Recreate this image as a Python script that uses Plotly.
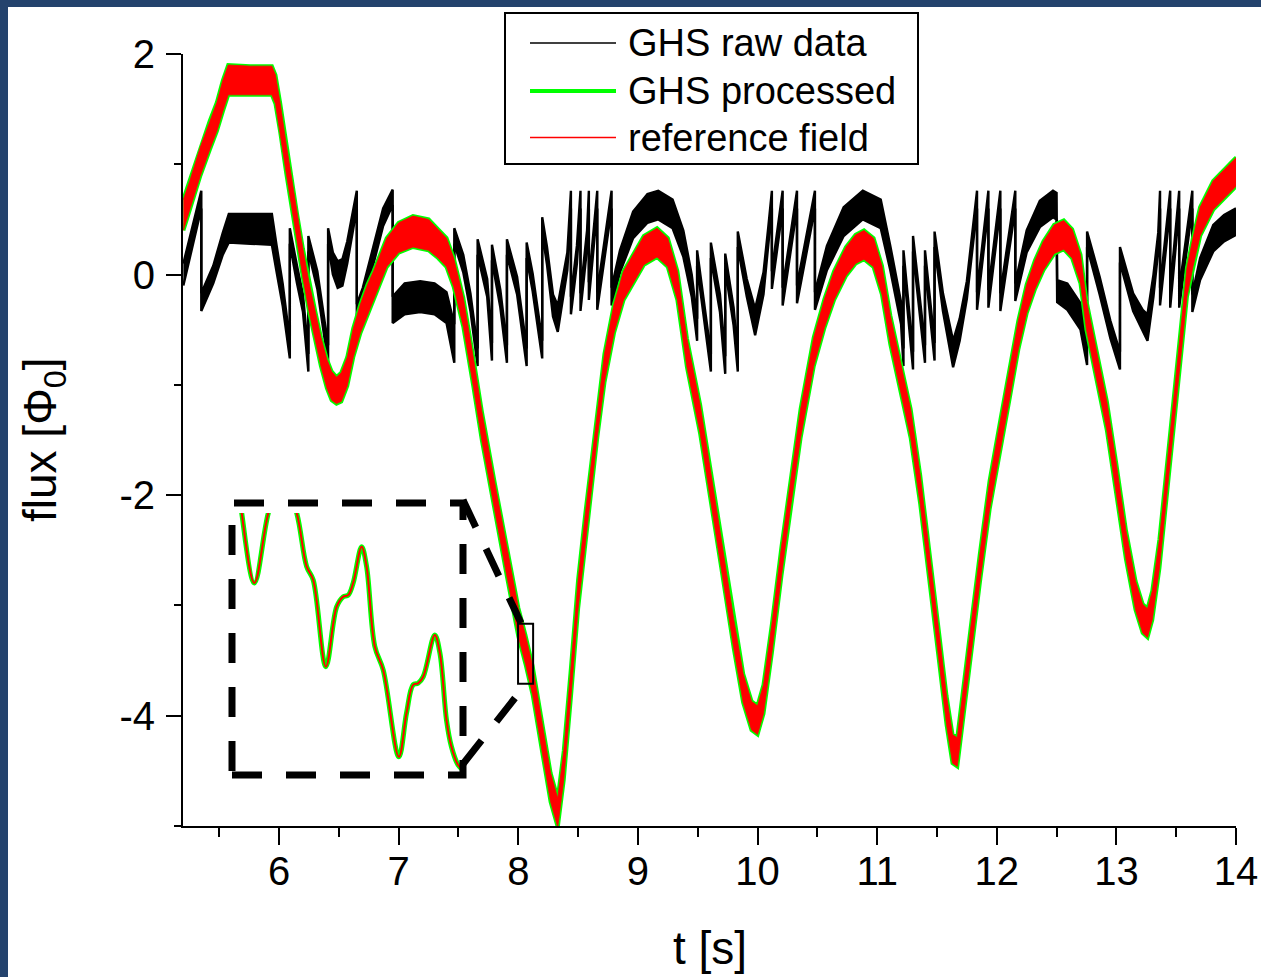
import plotly.graph_objects as go

# ---------------- data ----------------
# GHS raw data: time [s] with upper / lower edge of the (noisy) trace [Phi_0]
raw_t = [5.20, 5.35, 5.35, 5.45, 5.53, 5.58, 5.76, 5.94, 5.98, 6.03,
         6.09, 6.09, 6.15, 6.20, 6.245, 6.245, 6.32, 6.37, 6.41, 6.41,
         6.45, 6.49, 6.53, 6.57, 6.62, 6.65, 6.65, 6.70, 6.79, 6.87,
         6.95, 6.95, 7.05, 7.18, 7.30, 7.40, 7.465, 7.465, 7.54, 7.60,
         7.66, 7.66, 7.74, 7.78, 7.78, 7.85, 7.905, 7.905, 7.99, 8.07,
         8.07, 8.12, 8.20, 8.20, 8.24, 8.29, 8.33, 8.375, 8.41, 8.44,
         8.44, 8.49, 8.52, 8.52, 8.575, 8.59, 8.59, 8.66, 8.66, 8.78,
         8.78, 8.85, 8.96, 9.08, 9.17, 9.29, 9.38, 9.45, 9.495, 9.495,
         9.545, 9.61, 9.61, 9.686, 9.73, 9.73, 9.80, 9.835, 9.835, 9.91,
         9.98, 10.05, 10.09, 10.12, 10.12, 10.21, 10.21, 10.33, 10.33, 10.48,
         10.48, 10.58, 10.72, 10.88, 11.03, 11.11, 11.20, 11.22, 11.22, 11.30,
         11.30, 11.40, 11.40, 11.48, 11.48, 11.55, 11.635, 11.69, 11.75, 11.80,
         11.835, 11.835, 11.93, 11.93, 12.03, 12.03, 12.155, 12.155, 12.25, 12.36,
         12.47, 12.50, 12.505, 12.59, 12.70, 12.755, 12.755, 12.86, 12.95, 13.03,
         13.03, 13.14, 13.22, 13.26, 13.31, 13.35, 13.365, 13.365, 13.45, 13.45,
         13.525, 13.525, 13.635, 13.635, 13.70, 13.81, 13.90, 14.00]
raw_hi = [0.10, 0.76, -0.17, 0.08, 0.38, 0.55, 0.55, 0.55, 0.26, -0.08,
          -0.60, 0.42, 0.08, -0.18, -0.72, 0.35, 0.03, -0.32, -0.64, 0.42,
          0.20, 0.12, 0.14, 0.30, 0.58, 0.76, -0.27, -0.12, 0.26, 0.60,
          0.77, -0.20, -0.08, -0.06, -0.08, -0.16, -0.45, 0.42, 0.18, -0.17,
          -0.67, 0.32, -0.04, -0.62, 0.27, -0.14, -0.64, 0.32, -0.02, -0.67,
          0.29, 0.01, -0.60, 0.52, 0.25, -0.18, -0.28, -0.02, 0.20, 0.76,
          -0.20, 0.26, 0.76, -0.17, 0.40, 0.76, -0.07, 0.76, -0.16, 0.76,
          -0.12, 0.22, 0.57, 0.73, 0.76, 0.68, 0.40, 0.00, -0.40, 0.22,
          -0.18, -0.72, 0.29, -0.18, -0.74, 0.19, -0.30, -0.72, 0.39, -0.04,
          -0.31, 0.02, 0.43, 0.76, 0.03, 0.76, -0.12, 0.76, -0.10, 0.76,
          -0.16, 0.26, 0.61, 0.76, 0.68, 0.26, -0.25, -0.67, 0.22, -0.70,
          0.35, -0.64, 0.22, -0.62, 0.39, -0.17, -0.60, -0.40, -0.06, 0.43,
          0.76, -0.16, 0.76, -0.14, 0.76, -0.17, 0.76, -0.08, 0.40, 0.67,
          0.76, 0.74, -0.05, -0.08, -0.26, -0.62, 0.39, -0.02, -0.42, -0.70,
          0.25, -0.17, -0.32, -0.36, 0.00, 0.38, 0.76, -0.12, 0.76, -0.14,
          0.76, -0.14, 0.76, -0.18, 0.15, 0.45, 0.54, 0.60]
raw_lo = [-0.10, 0.60, -0.33, -0.08, 0.18, 0.29, 0.28, 0.27, 0.02, -0.28,
          -0.76, 0.28, -0.08, -0.34, -0.88, 0.21, -0.13, -0.48, -0.80, 0.28,
          0.00, -0.12, -0.10, 0.10, 0.42, 0.60, -0.43, -0.28, 0.10, 0.44,
          0.63, -0.44, -0.36, -0.34, -0.36, -0.44, -0.80, 0.28, 0.02, -0.33,
          -0.83, 0.18, -0.20, -0.78, 0.13, -0.30, -0.80, 0.18, -0.18, -0.83,
          0.15, -0.15, -0.76, 0.38, 0.09, -0.38, -0.52, -0.22, 0.04, 0.60,
          -0.36, 0.10, 0.60, -0.33, 0.24, 0.60, -0.23, 0.60, -0.32, 0.60,
          -0.28, 0.02, 0.33, 0.47, 0.50, 0.42, 0.16, -0.20, -0.60, 0.08,
          -0.34, -0.88, 0.15, -0.34, -0.90, 0.05, -0.46, -0.88, 0.25, -0.20,
          -0.55, -0.18, 0.27, 0.60, -0.13, 0.60, -0.28, 0.60, -0.26, 0.60,
          -0.32, 0.04, 0.35, 0.50, 0.42, 0.04, -0.45, -0.83, 0.08, -0.86,
          0.21, -0.80, 0.08, -0.78, 0.25, -0.33, -0.84, -0.60, -0.22, 0.27,
          0.60, -0.32, 0.60, -0.30, 0.60, -0.33, 0.60, -0.24, 0.20, 0.43,
          0.52, 0.50, -0.25, -0.32, -0.50, -0.82, 0.25, -0.18, -0.58, -0.86,
          0.11, -0.33, -0.52, -0.60, -0.20, 0.22, 0.60, -0.28, 0.60, -0.30,
          0.60, -0.30, 0.60, -0.34, -0.05, 0.21, 0.30, 0.36]

# GHS processed: time [s] with upper / lower edge of the band [Phi_0]
proc_t = [5.200, 5.260, 5.340, 5.420, 5.480, 5.530, 5.575, 5.760, 5.940, 5.970,
          6.010, 6.060, 6.100, 6.150, 6.200, 6.250, 6.300, 6.350, 6.400, 6.440,
          6.480, 6.520, 6.570, 6.620, 6.680, 6.740, 6.790, 6.900, 7.000, 7.120,
          7.250, 7.330, 7.400, 7.460, 7.540, 7.625, 7.695, 7.800, 7.900, 8.000,
          8.060, 8.120, 8.200, 8.270, 8.330, 8.380, 8.440, 8.500, 8.560, 8.620,
          8.660, 8.720, 8.800, 8.880, 8.960, 9.050, 9.160, 9.250, 9.330, 9.410,
          9.520, 9.600, 9.700, 9.800, 9.880, 9.950, 10.000, 10.050, 10.120, 10.200,
          10.280, 10.360, 10.470, 10.560, 10.640, 10.740, 10.820, 10.890, 10.970, 11.040,
          11.110, 11.200, 11.280, 11.360, 11.440, 11.520, 11.580, 11.630, 11.670, 11.700,
          11.780, 11.860, 11.940, 12.030, 12.110, 12.180, 12.250, 12.320, 12.390, 12.480,
          12.560, 12.630, 12.700, 12.750, 12.830, 12.920, 13.000, 13.080, 13.160, 13.220,
          13.260, 13.300, 13.360, 13.420, 13.470, 13.505, 13.550, 13.590, 13.640, 13.700,
          13.810, 13.900, 14.000]
proc_hi = [0.68, 0.87, 1.15, 1.39, 1.56, 1.76, 1.90, 1.89, 1.89, 1.81,
           1.55, 1.18, 0.91, 0.55, 0.23, -0.07, -0.32, -0.57, -0.77, -0.88,
           -0.93, -0.89, -0.75, -0.49, -0.27, -0.09, 0.03, 0.33, 0.47, 0.53,
           0.50, 0.41, 0.33, 0.15, -0.21, -0.76, -1.24, -1.87, -2.45, -3.02,
           -3.27, -3.55, -4.07, -4.52, -4.75, -4.32, -3.57, -2.77, -2.17, -1.62,
           -1.22, -0.72, -0.27, 0.03, 0.18, 0.35, 0.42, 0.33, 0.03, -0.58,
           -1.18, -1.72, -2.42, -3.12, -3.62, -3.87, -3.91, -3.72, -3.17, -2.47,
           -1.82, -1.22, -0.57, -0.22, 0.03, 0.25, 0.36, 0.40, 0.33, 0.08,
           -0.37, -0.82, -1.22, -1.82, -2.52, -3.27, -3.82, -4.17, -4.20, -3.92,
           -3.22, -2.52, -1.87, -1.32, -0.85, -0.42, -0.09, 0.13, 0.30, 0.45,
           0.49, 0.41, 0.18, -0.24, -0.67, -1.15, -1.72, -2.32, -2.78, -2.99,
           -3.03, -2.87, -2.40, -1.77, -1.27, -0.85, -0.37, 0.06, 0.33, 0.61,
           0.85, 0.95, 1.06]
proc_lo = [0.40, 0.61, 0.89, 1.13, 1.30, 1.48, 1.63, 1.63, 1.63, 1.55,
           1.29, 0.92, 0.65, 0.29, -0.03, -0.33, -0.58, -0.83, -1.03, -1.14,
           -1.17, -1.15, -1.01, -0.75, -0.53, -0.35, -0.23, 0.07, 0.20, 0.25,
           0.22, 0.15, 0.07, -0.11, -0.47, -1.02, -1.50, -2.13, -2.71, -3.28,
           -3.53, -3.81, -4.33, -4.78, -5.01, -4.58, -3.83, -3.03, -2.43, -1.88,
           -1.48, -0.98, -0.53, -0.23, -0.08, 0.09, 0.16, 0.07, -0.23, -0.84,
           -1.44, -1.98, -2.68, -3.38, -3.88, -4.13, -4.17, -3.98, -3.43, -2.73,
           -2.08, -1.48, -0.83, -0.48, -0.23, -0.01, 0.10, 0.14, 0.07, -0.18,
           -0.63, -1.08, -1.48, -2.08, -2.78, -3.53, -4.08, -4.43, -4.46, -4.18,
           -3.48, -2.78, -2.13, -1.58, -1.11, -0.68, -0.35, -0.13, 0.04, 0.19,
           0.23, 0.15, -0.08, -0.50, -0.93, -1.41, -1.98, -2.58, -3.04, -3.25,
           -3.29, -3.13, -2.66, -2.03, -1.53, -1.11, -0.63, -0.20, 0.07, 0.35,
           0.59, 0.69, 0.80]

# reference field: coincides with the processed signal at this scale
ref_t = list(proc_t)
ref_hi = list(proc_hi)
ref_lo = list(proc_lo)

# inset: magnified view of the small box (t = 8.0 ... 8.124 s)
inset_t = [8.0015, 8.0033, 8.0102, 8.0178, 8.0253, 8.0333, 8.0387, 8.0423, 8.0492, 8.0551,
           8.0587, 8.0614, 8.0641, 8.0687, 8.0714, 8.0759, 8.0805, 8.0890, 8.0932, 8.0968,
           8.0995, 8.1023, 8.1086, 8.1114, 8.1150, 8.1177, 8.1213, 8.1240]
inset_f = [-3.120, -3.180, -3.319, -3.180, -3.100, -3.180, -3.286, -3.313, -3.485, -3.366,
           -3.346, -3.343, -3.319, -3.247, -3.286, -3.445, -3.492, -3.664, -3.577, -3.521,
           -3.518, -3.505, -3.422, -3.458, -3.591, -3.644, -3.680, -3.690]
zoom_box_t = [7.998, 8.124]
zoom_box_f = [-3.71, -3.165]

x_ticks = [6, 7, 8, 9, 10, 11, 12, 13, 14]
y_ticks = [-4, -2, 0, 2]
legend_labels = ["GHS raw data", "GHS processed", "reference field"]
x_title = "t [s]"
y_title = "flux [Φ<sub>0</sub>]"

# ---------------- geometry ----------------
W, H = 1261, 977
L, R, T, B = 183, 25, 54, 151
PW, PH = W - L - R, H - T - B


def px(xp):
    return (xp - L) / PW


def py(yp):
    return (H - B - yp) / PH


FONT = "Liberation Sans, Arial, sans-serif"
GREEN = "#00ff00"
RED = "#ff0000"
FRAME = "#24436d"

fig = go.Figure()

# raw data band (lower edge, then upper edge filled to it)
fig.add_trace(go.Scatter(x=raw_t, y=raw_lo, mode="lines",
                         line=dict(color="black", width=2.4),
                         showlegend=False, hoverinfo="skip"))
fig.add_trace(go.Scatter(x=raw_t, y=raw_hi, mode="lines",
                         line=dict(color="black", width=2.4),
                         fill="tonexty", fillcolor="black",
                         showlegend=False, hoverinfo="skip"))
# processed (green) band
fig.add_trace(go.Scatter(x=proc_t + proc_t[::-1], y=proc_hi + proc_lo[::-1],
                         mode="lines", fill="toself", fillcolor=GREEN,
                         line=dict(color=GREEN, width=4),
                         showlegend=False, hoverinfo="skip"))
# reference (red) band
fig.add_trace(go.Scatter(x=ref_t + ref_t[::-1], y=ref_hi + ref_lo[::-1],
                         mode="lines", fill="toself", fillcolor=RED,
                         line=dict(color=RED, width=0.8),
                         showlegend=False, hoverinfo="skip"))

# inset curves
fig.add_trace(go.Scatter(x=inset_t, y=inset_f, mode="lines", xaxis="x2", yaxis="y2",
                         line=dict(color=GREEN, width=5, shape="spline"),
                         showlegend=False, hoverinfo="skip"))
fig.add_trace(go.Scatter(x=inset_t, y=inset_f, mode="lines", xaxis="x2", yaxis="y2",
                         line=dict(color=RED, width=2, shape="spline"),
                         showlegend=False, hoverinfo="skip"))

shapes = []
# dark frame on the left and top edge
shapes.append(dict(type="rect", xref="paper", yref="paper", layer="above",
                   x0=px(0), x1=px(8), y0=py(H), y1=py(0),
                   fillcolor=FRAME, line=dict(width=0)))
shapes.append(dict(type="rect", xref="paper", yref="paper", layer="above",
                   x0=px(0), x1=px(W), y0=py(7), y1=py(0),
                   fillcolor=FRAME, line=dict(width=0)))
# x axis line stub left of the y axis
shapes.append(dict(type="line", xref="paper", yref="paper",
                   x0=px(177), x1=0, y0=0, y1=0,
                   line=dict(color="black", width=2)))
# small zoom box in data coordinates
shapes.append(dict(type="rect", xref="x", yref="y",
                   x0=zoom_box_t[0], x1=zoom_box_t[1],
                   y0=zoom_box_f[0], y1=zoom_box_f[1],
                   line=dict(color="black", width=2)))
# dashed inset frame and connectors
DASH = "30px,24px"
shapes.append(dict(type="rect", xref="paper", yref="paper",
                   x0=px(232), x1=px(463), y0=py(775), y1=py(503),
                   line=dict(color="black", width=7, dash=DASH)))
shapes.append(dict(type="line", xref="paper", yref="paper",
                   x0=px(463), y0=py(500), x1=px(521), y1=py(623),
                   line=dict(color="black", width=7, dash=DASH)))
shapes.append(dict(type="line", xref="paper", yref="paper",
                   x0=px(463), y0=py(764), x1=px(526), y1=py(684),
                   line=dict(color="black", width=7, dash=DASH)))
# legend box and samples
shapes.append(dict(type="rect", xref="paper", yref="paper",
                   x0=px(505), x1=px(918), y0=py(164), y1=py(13),
                   fillcolor="white", line=dict(color="black", width=2)))
legend_y = [43, 91, 137.5]
legend_style = [("black", 1.5), (GREEN, 4), (RED, 1.5)]
for yy, (c, w) in zip(legend_y, legend_style):
    shapes.append(dict(type="line", xref="paper", yref="paper",
                       x0=px(530), x1=px(616), y0=py(yy), y1=py(yy),
                       line=dict(color=c, width=w)))

annotations = []
for yy, lab in zip(legend_y, legend_labels):
    annotations.append(dict(xref="paper", yref="paper", x=px(626), y=py(yy),
                            xanchor="left", yanchor="middle", text=lab,
                            showarrow=False, font=dict(family=FONT, size=38, color="black")))
annotations.append(dict(xref="paper", yref="paper", x=0.5, y=py(948),
                        xanchor="center", yanchor="middle", text=x_title,
                        showarrow=False, font=dict(family=FONT, size=46, color="black")))
annotations.append(dict(xref="paper", yref="paper", x=px(43), y=0.5,
                        xanchor="center", yanchor="middle", text=y_title, textangle=-90,
                        showarrow=False, font=dict(family=FONT, size=46, color="black")))

fig.update_layout(
    width=W, height=H, autosize=False,
    margin=dict(l=L, r=R, t=T, b=B, pad=0, autoexpand=False),
    paper_bgcolor="white", plot_bgcolor="white",
    showlegend=False,
    font=dict(family=FONT, color="black"),
    xaxis=dict(range=[5.197, 14.0], tickvals=x_ticks, ticktext=[str(v) for v in x_ticks],
               showgrid=False, zeroline=False, showline=True, linecolor="black", linewidth=2,
               ticks="outside", ticklen=17, tickwidth=2, tickcolor="black",
               tickfont=dict(family=FONT, size=40, color="black"), ticklabelstandoff=-8,
               minor=dict(ticks="outside", ticklen=9, tickwidth=2, tickcolor="black",
                          dtick=0.5, tick0=0, showgrid=False),
               automargin=False, fixedrange=True),
    yaxis=dict(range=[-5.0, 2.0], tickvals=y_ticks, ticktext=[str(v) for v in y_ticks],
               showgrid=False, zeroline=False, showline=True, linecolor="black", linewidth=2,
               ticks="outside", ticklen=15, tickwidth=2, tickcolor="black",
               tickfont=dict(family=FONT, size=40, color="black"), ticklabelstandoff=3,
               minor=dict(ticks="outside", ticklen=7, tickwidth=2, tickcolor="black",
                          dtick=1, tick0=0, showgrid=False),
               automargin=False, fixedrange=True),
    xaxis2=dict(domain=[px(232), px(463)], range=[7.998, 8.124], visible=False,
                anchor="y2", fixedrange=True),
    yaxis2=dict(domain=[py(775), py(513)], range=[-3.70, -3.18], visible=False,
                anchor="x2", fixedrange=True),
    shapes=shapes,
    annotations=annotations,
)

fig.write_html("out.html",
               config={"displayModeBar": False, "responsive": False},
               post_script="document.documentElement.style.overflow='hidden';"
                           "document.body.style.overflow='hidden';"
                           "document.body.style.margin='0px';")
